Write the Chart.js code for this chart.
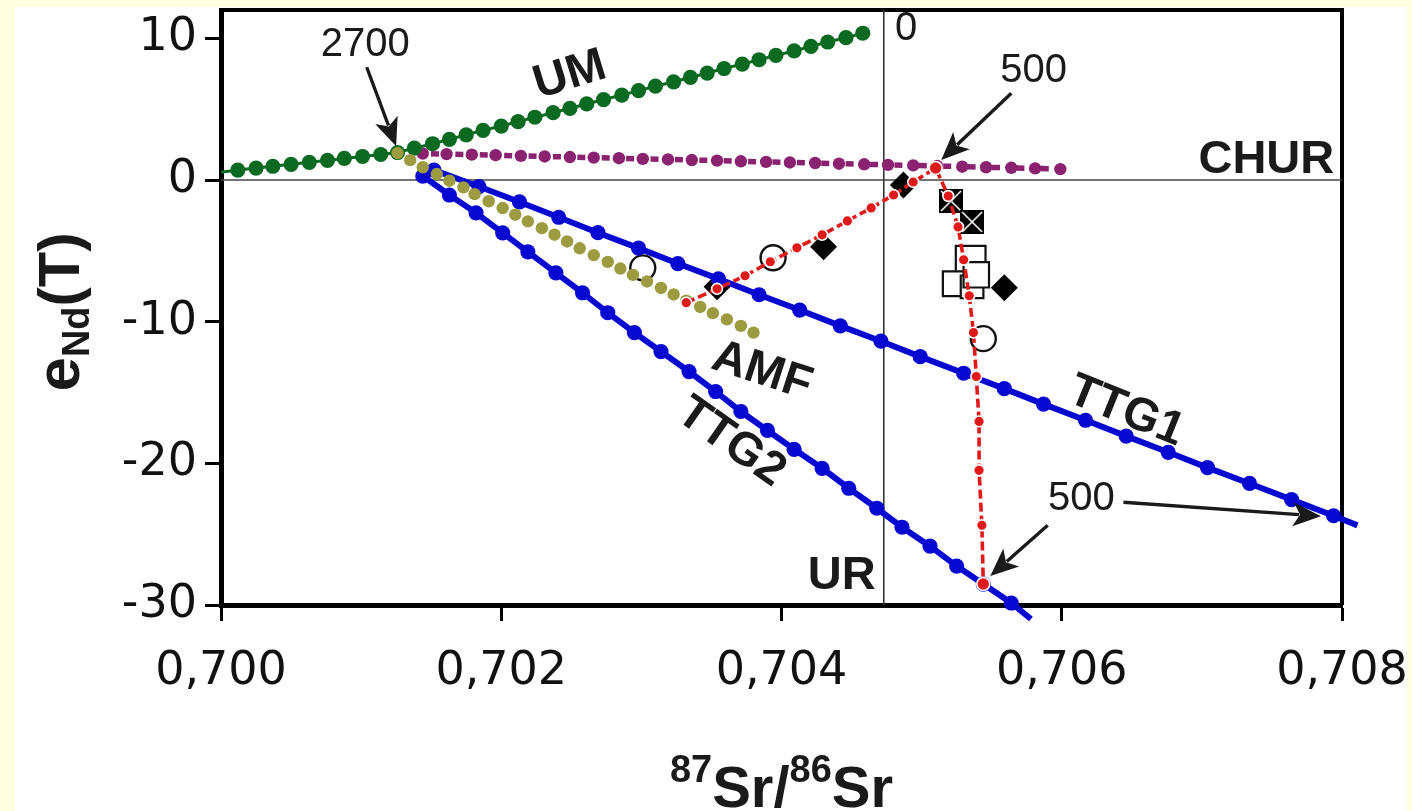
<!doctype html>
<html lang="en">
<head>
<meta charset="utf-8">
<title>eNd(T) vs 87Sr/86Sr</title>
<style>
  html, body { margin: 0; padding: 0; background: #ffffe2; overflow: hidden; }
  #sheet { position: absolute; left: 15px; top: 7px; width: 1392px; height: 804px; background: #fff; }
  #chart { position: absolute; left: 0; top: 0; }
</style>
<script src="https://cdn.jsdelivr.net/npm/chart.js@4.4.1/dist/chart.umd.min.js"></script>
</head>
<body>
<div id="sheet"></div>
<canvas id="chart" width="1412" height="811"></canvas>
<script>
const ARIAL = '"Liberation Sans", Arial, sans-serif';
const TICKFONT = '"DejaVu Sans", "Liberation Sans", sans-serif';

const xTicks = [0.700, 0.702, 0.704, 0.706, 0.708];
const yTicks = [-30, -20, -10, 0, 10];

// UM evolution line (green)
const umX = [0.70000, 0.70012, 0.70025, 0.70037, 0.70050, 0.70063, 0.70076, 0.70088, 0.70101, 0.70114,
  0.70126, 0.70138, 0.70151, 0.70163, 0.70175, 0.70187, 0.70200, 0.70212, 0.70224, 0.70237,
  0.70249, 0.70261, 0.70273, 0.70286, 0.70298, 0.70310, 0.70323, 0.70335, 0.70347, 0.70359,
  0.70372, 0.70384, 0.70396, 0.70409, 0.70421, 0.70433, 0.70446, 0.70458];
const umY = [0.55, 0.70, 0.84, 0.97, 1.11, 1.25, 1.39, 1.52, 1.66, 1.80,
  1.94, 2.25, 2.56, 2.87, 3.19, 3.50, 3.81, 4.12, 4.43, 4.75,
  5.06, 5.37, 5.68, 5.99, 6.31, 6.62, 6.93, 7.24, 7.55, 7.87,
  8.18, 8.49, 8.80, 9.11, 9.43, 9.74, 10.05, 10.36];

// CHUR-like line (purple)
const churX = [0.70144, 0.70161, 0.70179, 0.70196, 0.70214, 0.70231, 0.70249, 0.70266, 0.70284, 0.70301,
  0.70319, 0.70336, 0.70354, 0.70371, 0.70389, 0.70406, 0.70424, 0.70441, 0.70459, 0.70476,
  0.70494, 0.70511, 0.70529, 0.70546, 0.70564, 0.70581, 0.70599];
const churY = [1.87, 1.83, 1.79, 1.75, 1.70, 1.66, 1.62, 1.58, 1.54, 1.49,
  1.45, 1.41, 1.37, 1.32, 1.28, 1.24, 1.20, 1.15, 1.11, 1.07,
  1.03, 0.99, 0.94, 0.90, 0.86, 0.82, 0.77];

// AMF (olive)
const amfX = [0.70126, 0.70135, 0.70144, 0.70154, 0.70163, 0.70173, 0.70181, 0.70191, 0.70201, 0.70210,
  0.70219, 0.70229, 0.70238, 0.70247, 0.70256, 0.70266, 0.70276, 0.70285, 0.70294, 0.70304,
  0.70314, 0.70323, 0.70332, 0.70342, 0.70351, 0.70361, 0.70371, 0.70380];
const amfY = [1.90, 1.40, 0.90, 0.42, -0.05, -0.52, -1.00, -1.50, -1.98, -2.45,
  -2.92, -3.40, -3.86, -4.34, -4.82, -5.30, -5.78, -6.25, -6.70, -7.16,
  -7.62, -8.08, -8.52, -8.96, -9.40, -9.84, -10.30, -10.77];

// TTG1 and TTG2 (blue)
const ttg1X = [0.70152, 0.70184, 0.70213, 0.70241, 0.70269, 0.70298, 0.70326, 0.70355, 0.70384, 0.70413,
  0.70442, 0.70471, 0.70499, 0.70530, 0.70559, 0.70587, 0.70617, 0.70646, 0.70676, 0.70704,
  0.70734, 0.70764, 0.70794, 0.70811];
const ttg1Y = [0.70, -0.46, -1.55, -2.63, -3.72, -4.81, -5.90, -6.98, -8.10, -9.18,
  -10.30, -11.38, -12.47, -13.64, -14.73, -15.82, -16.96, -18.08, -19.22, -20.30,
  -21.42, -22.56, -23.70, -24.38];
const ttg2X = [0.70144, 0.70163, 0.70182, 0.70201, 0.70219, 0.70239, 0.70258, 0.70276, 0.70295, 0.70314,
  0.70334, 0.70353, 0.70371, 0.70390, 0.70409, 0.70429, 0.70448, 0.70468, 0.70486, 0.70506,
  0.70525, 0.70544, 0.70564, 0.70578];
const ttg2Y = [0.28, -1.06, -2.32, -3.73, -5.07, -6.55, -7.96, -9.37, -10.77, -12.11,
  -13.52, -14.93, -16.34, -17.68, -19.01, -20.35, -21.76, -23.17, -24.51, -25.85,
  -27.25, -28.52, -29.86, -30.99];

// mixing curve (red)
const mixX = [0.70332, 0.70354, 0.70374, 0.70392, 0.70411, 0.70429, 0.70447, 0.70464, 0.70480, 0.70494,
  0.70510, 0.70519, 0.70526, 0.70530, 0.70534, 0.70537, 0.70539, 0.70541, 0.70541, 0.70543, 0.70544];
const mixY = [-8.66, -7.68, -6.76, -5.77, -4.79, -3.87, -2.89, -1.97, -1.06, -0.14,
  0.85, -1.13, -3.31, -5.63, -8.17, -10.77, -13.87, -17.04, -20.49, -24.37, -28.52];

// samples
const diamondX = [0.70354, 0.70430, 0.70487, 0.70559];
const diamondY = [-7.54, -4.72, -0.35, -7.61];
const circleX = [0.70301, 0.70394, 0.70544];
const circleY = [-6.20, -5.49, -11.20];
const crossX = [0.70521, 0.70536];
const crossY = [-1.48, -2.96];
const squareX = [0.70535, 0.70524, 0.70536, 0.70539];
const squareY = [-5.70, -7.32, -7.54, -6.69];

// reference lines
const churLevel = 0;
const urLevel = 0.70473;

const pts = (xs, ys) => xs.map((x, i) => ({ x: x, y: ys[i] }));

function crossBox(size) {
  const c = document.createElement('canvas');
  c.width = c.height = size;
  const g = c.getContext('2d');
  g.fillStyle = '#000';
  g.fillRect(0, 0, size, size);
  g.strokeStyle = '#fff';
  g.lineWidth = 1.6;
  g.beginPath();
  g.moveTo(2, 2); g.lineTo(size - 2, size - 2);
  g.moveTo(size - 2, 2); g.lineTo(2, size - 2);
  g.stroke();
  return c;
}

const GREEN = '#0a6a22', PURPLE = '#8a2270', OLIVE = '#9d9b3f', BLUE = '#0707d2', RED = '#e01a1a';

const datasets = [
  {
    data: pts(mixX, mixY), showLine: true, order: 0,
    borderColor: RED, borderWidth: 3.6, borderDash: [9, 4],
    pointBackgroundColor: RED, pointBorderColor: '#fff', pointBorderWidth: 1.6,
    pointRadius: c => (c.dataIndex === 10 || c.dataIndex === 20) ? 6.5 : 5.4
  },
  {
    data: pts(amfX, amfY), order: 1,
    pointBackgroundColor: OLIVE, pointBorderWidth: 0, pointRadius: 6.2
  },
  {
    data: pts(umX, umY), showLine: true, order: 2,
    borderColor: GREEN, borderWidth: 3,
    pointBackgroundColor: GREEN, pointBorderWidth: 0,
    pointRadius: c => c.dataIndex === 0 ? 0 : 7.6
  },
  {
    data: pts(churX, churY), showLine: true, order: 3,
    borderColor: PURPLE, borderWidth: 5.5, borderDash: [8, 16.4], borderDashOffset: 16.2,
    pointBackgroundColor: PURPLE, pointBorderWidth: 0, pointRadius: 6.2
  },
  {
    data: pts(ttg1X, ttg1Y), showLine: true, order: 4, clip: false,
    borderColor: BLUE, borderWidth: 6,
    pointBackgroundColor: BLUE, pointBorderWidth: 0,
    pointRadius: c => c.dataIndex === ttg1X.length - 1 ? 0 : 7.6
  },
  {
    data: pts(ttg2X, ttg2Y), showLine: true, order: 5, clip: false,
    borderColor: BLUE, borderWidth: 6,
    pointBackgroundColor: BLUE, pointBorderWidth: 0,
    pointRadius: c => c.dataIndex === ttg2X.length - 1 ? 0 : 7.6
  },
  {
    data: pts(crossX, crossY), order: 6,
    pointStyle: crossBox(24)
  },
  {
    data: pts(squareX, squareY), order: 7,
    pointStyle: 'rect', pointBackgroundColor: '#fff', pointBorderColor: '#111', pointBorderWidth: 2.2,
    pointRadius: [21, 17.5, 16, 18]
  },
  {
    data: pts(circleX, circleY), order: 8,
    pointStyle: 'circle', pointBackgroundColor: '#fff', pointBorderColor: '#111', pointBorderWidth: 2.4,
    pointRadius: 12.5
  },
  {
    data: pts(diamondX, diamondY), order: 9,
    pointStyle: 'rectRot', pointBackgroundColor: '#000', pointBorderWidth: 0, pointRadius: 13.5
  },
  {
    data: [{ x: 0.700, y: churLevel }, { x: 0.708, y: churLevel }], showLine: true, order: 10,
    borderColor: '#444', borderWidth: 1.6, pointRadius: 0
  },
  {
    data: [{ x: urLevel, y: -30 }, { x: urLevel, y: 12 }], showLine: true, order: 11,
    borderColor: '#333', borderWidth: 1.6, pointRadius: 0
  }
];

// text labels in data units: [text, x, y, rotation deg, font]
const labels = [
  ['2700', 0.70103, 9.51, 0, '40px ' + ARIAL],
  ['0', 0.70489, 10.63, 0, '40px ' + ARIAL],
  ['500', 0.70580, 7.68, 0, '40px ' + ARIAL],
  ['500', 0.70614, -22.54, 0, '40px ' + ARIAL],
  ['UM', 0.70249, 7.39, -17, 'bold 47px ' + ARIAL],
  ['CHUR', 0.70746, 1.41, 0, 'bold 47px ' + ARIAL],
  ['AMF', 0.70386, -13.52, 18, 'bold 47px ' + ARIAL],
  ['TTG2', 0.70364, -18.52, 35, 'bold 47px ' + ARIAL],
  ['TTG1', 0.70646, -16.34, 22, 'bold 47px ' + ARIAL],
  ['UR', 0.70443, -27.96, 0, 'bold 47px ' + ARIAL]
];
// arrows: [x1, y1, x2 (tip), y2]
const arrows = [
  [0.70104, 7.96, 0.70125, 2.39],
  [0.70564, 6.13, 0.70514, 1.41],
  [0.70590, -24.37, 0.70549, -27.96],
  [0.70644, -22.75, 0.70785, -23.73]
];

function arrow(ctx, x1, y1, x2, y2) {
  const a = Math.atan2(y2 - y1, x2 - x1), head = 28, half = 12;
  const bx = x2 - head * Math.cos(a), by = y2 - head * Math.sin(a);
  ctx.lineWidth = 3.4;
  ctx.beginPath(); ctx.moveTo(x1, y1); ctx.lineTo(bx + 6 * Math.cos(a), by + 6 * Math.sin(a)); ctx.stroke();
  ctx.beginPath();
  ctx.moveTo(x2, y2);
  ctx.lineTo(bx + half * Math.sin(a), by - half * Math.cos(a));
  ctx.lineTo(bx + 7 * Math.cos(a), by + 7 * Math.sin(a));
  ctx.lineTo(bx - half * Math.sin(a), by + half * Math.cos(a));
  ctx.closePath(); ctx.fill();
}

function runs(ctx, parts, x, baseY) {
  let cx = x;
  parts.forEach(p => {
    ctx.font = p[1];
    ctx.fillText(p[0], cx, baseY + p[2]);
    cx += ctx.measureText(p[0]).width;
  });
}
function runsWidth(ctx, parts) {
  let w = 0;
  parts.forEach(p => { ctx.font = p[1]; w += ctx.measureText(p[0]).width; });
  return w;
}

const frame = {
  id: 'frame',
  beforeDatasetsDraw(chart) {
    const { ctx, chartArea: a } = chart;
    ctx.save();
    ctx.strokeStyle = '#000';
    ctx.lineWidth = 4;
    ctx.beginPath();
    ctx.moveTo(a.left, a.top); ctx.lineTo(a.right, a.top); ctx.lineTo(a.right, a.bottom);
    ctx.stroke();
    ctx.restore();
  }
};

const notes = {
  id: 'notes',
  afterDatasetsDraw(chart) {
    const { ctx, chartArea: a } = chart;
    const sx = chart.scales.x, sy = chart.scales.y;
    ctx.save();
    ctx.fillStyle = '#1a1a1a';
    ctx.strokeStyle = '#1a1a1a';
    labels.forEach(l => {
      ctx.save();
      ctx.translate(sx.getPixelForValue(l[1]), sy.getPixelForValue(l[2]));
      ctx.rotate(l[3] * Math.PI / 180);
      ctx.font = l[4];
      ctx.textAlign = 'center';
      ctx.textBaseline = 'middle';
      ctx.fillText(l[0], 0, 0);
      ctx.restore();
    });
    arrows.forEach(r => arrow(ctx, sx.getPixelForValue(r[0]), sy.getPixelForValue(r[1]),
      sx.getPixelForValue(r[2]), sy.getPixelForValue(r[3])));

    // axis titles
    ctx.textAlign = 'left';
    ctx.textBaseline = 'alphabetic';
    const big = 'bold 58px ' + ARIAL, small = 'bold 38px ' + ARIAL;
    const xt = [['87', small, -25], ['Sr/', big, 0], ['86', small, -25], ['Sr', big, 0]];
    const xw = runsWidth(ctx, xt);
    runs(ctx, xt, (a.left + a.right) / 2 - xw / 2, 807);

    const yt = [['e', 'bold 62px ' + ARIAL, 0], ['Nd', 'bold 38px ' + ARIAL, 10], ['(T)', 'bold 58px ' + ARIAL, 0]];
    const yw = runsWidth(ctx, yt);
    ctx.translate(79, 312);
    ctx.rotate(-Math.PI / 2);
    runs(ctx, yt, -yw / 2, 0);
    ctx.restore();
  }
};

new Chart(document.getElementById('chart').getContext('2d'), {
  type: 'scatter',
  data: { datasets: datasets },
  options: {
    responsive: false,
    animation: false,
    devicePixelRatio: 1,
    layout: { autoPadding: false, padding: { left: 0, top: 10, right: 70, bottom: 0 } },
    plugins: { legend: { display: false }, tooltip: { enabled: false } },
    elements: { line: { tension: 0 } },
    scales: {
      x: {
        type: 'linear', min: 0.700, max: 0.708,
        afterBuildTicks: s => { s.ticks = xTicks.map(v => ({ value: v })); },
        afterFit: s => { s.height = 206; s.paddingLeft = 0; s.paddingRight = 0; },
        ticks: {
          callback: v => v.toFixed(3).replace('.', ','),
          font: { family: TICKFONT, size: 46 }, color: '#111', padding: 23,
          maxRotation: 0, autoSkip: false
        },
        grid: { drawOnChartArea: false, tickLength: 16, tickWidth: 3, tickColor: '#000' },
        border: { color: '#000', width: 5 }
      },
      y: {
        type: 'linear', min: -30, max: 12,
        afterBuildTicks: s => { s.ticks = yTicks.map(v => ({ value: v })); },
        afterFit: s => { s.width = 221; s.paddingTop = 0; s.paddingBottom = 0; },
        ticks: { font: { family: TICKFONT, size: 46, lineHeight: 0.4 }, color: '#111', padding: 8, autoSkip: false },
        grid: { drawOnChartArea: false, tickLength: 16, tickWidth: 3, tickColor: '#000' },
        border: { color: '#000', width: 5 }
      }
    }
  },
  plugins: [frame, notes]
});
</script>
</body>
</html>
